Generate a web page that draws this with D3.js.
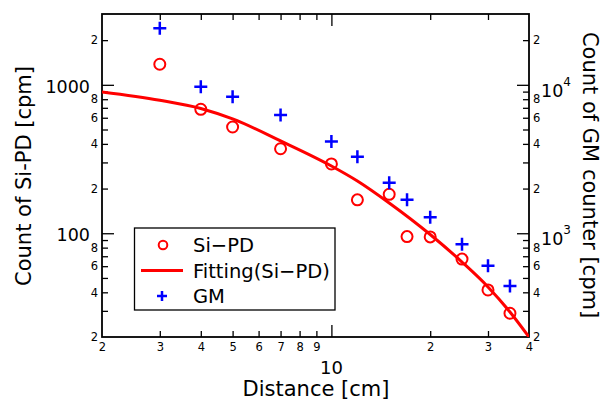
<!DOCTYPE html>
<html>
<head>
<meta charset="utf-8">
<script src="https://cdn.jsdelivr.net/npm/d3@7"></script>
<style>
  html, body { margin: 0; padding: 0; background: #fff; }
  svg { display: block; }
  text { font-family: "DejaVu Sans", "Liberation Sans", sans-serif; fill: #000; }
</style>
</head>
<body>
<svg id="chart" width="601" height="401"></svg>
<script>
// ---------- data ----------
const distance = [3, 4, 5, 7, 10, 12, 15, 17, 20, 25, 30, 35];
const siPD = [1376, 684, 520, 371, 293, 168, 183, 95, 94.5, 67, 41.5, 28.9];
const gm = [24060, 9720, 8320, 6270, 4150, 3280, 2190, 1680, 1280, 843, 605, 441];
const fitDistance = [2, 3, 4, 5, 7, 10, 12, 15, 20, 25, 30, 35, 40];
const fitSiPD = [895, 787, 693, 589, 419, 284, 225, 160, 98.1, 64, 43.5, 29.5, 20];

const xDomain = [2, 40];
const xTicks = [2, 3, 4, 5, 6, 7, 8, 9, 10, 20, 30, 40];
const xTickLabels = ["2", "3", "4", "5", "6", "7", "8", "9", "", "2", "3", "4"];
const xMajor = [10];
const xMajorLabels = ["10"];

const yLeftDomain = [20, 3000];
const yLeftTicks = [20, 30, 40, 50, 60, 70, 80, 90, 100, 200, 300, 400, 500, 600, 700, 800, 900, 1000, 2000];
const yLeftTickLabels = ["2", "", "4", "", "6", "", "8", "", "", "2", "", "4", "", "6", "", "8", "", "", "2"];
const yLeftMajor = [100, 1000];
const yLeftMajorLabels = ["100", "1000"];

const yRightDomain = [200, 30000];
const yRightTicks = [200, 300, 400, 500, 600, 700, 800, 900, 1000, 2000, 3000, 4000, 5000, 6000, 7000, 8000, 9000, 10000, 20000];
const yRightTickLabels = ["2", "", "4", "", "6", "", "8", "", "", "2", "", "4", "", "6", "", "8", "", "", "2"];
const yRightMajor = [1000, 10000];
const yRightMajorExp = ["3", "4"];

const legendLabels = ["Si\u2212PD", "Fitting(Si\u2212PD)", "GM"];
const xTitle = "Distance [cm]";
const yLeftTitle = "Count of Si-PD [cpm]";
const yRightTitle = "Count of GM counter [cpm]";

// ---------- layout ----------
const L = 102, R = 529, T = 14, B = 337;
const RED = "#ff0000", BLUE = "#0000ff";

const svg = d3.select("#chart");
const x = d3.scaleLog().domain(xDomain).range([L, R]);
const yL = d3.scaleLog().domain(yLeftDomain).range([B, T]);
const yR = d3.scaleLog().domain(yRightDomain).range([B, T]);

svg.append("defs").append("clipPath").attr("id", "clip")
  .append("rect").attr("x", L).attr("y", T).attr("width", R - L).attr("height", B - T);

const tickFont = 11.5;

// bottom axis
const gB = svg.append("g").attr("transform", `translate(0,${B})`)
  .call(d3.axisBottom(x).tickValues(xTicks).tickSize(-6).tickPadding(4)
    .tickFormat((d, i) => xTickLabels[i]));
gB.select(".domain").remove();
gB.selectAll(".tick line").attr("stroke", "#000").attr("stroke-width", 1.3)
  .attr("y2", d => xMajor.includes(d) ? -12 : (d === 2 || d === 40 ? 0 : -6));
gB.selectAll(".tick text").attr("font-size", tickFont).attr("font-family", "DejaVu Sans").attr("dy", "0.85em");
svg.selectAll(".xmajor").data(xMajor).enter().append("text")
  .attr("x", d => x(d)).attr("y", 373.5).attr("text-anchor", "middle")
  .attr("font-size", 18).text((d, i) => xMajorLabels[i]);

// top axis (ticks only)
const gT = svg.append("g").attr("transform", `translate(0,${T})`)
  .call(d3.axisTop(x).tickValues(xTicks.filter(d => d !== 2 && d !== 40)).tickSize(-6).tickFormat(""));
gT.select(".domain").remove();
gT.selectAll(".tick line").attr("stroke", "#000").attr("stroke-width", 1.3)
  .attr("y2", d => xMajor.includes(d) ? 12 : 6);

// left axis
const gL = svg.append("g").attr("transform", `translate(${L},0)`)
  .call(d3.axisLeft(yL).tickValues(yLeftTicks).tickSize(-6).tickPadding(4)
    .tickFormat((d, i) => yLeftTickLabels[i]));
gL.select(".domain").remove();
gL.selectAll(".tick line").attr("stroke", "#000").attr("stroke-width", 1.3)
  .attr("x2", d => yLeftMajor.includes(d) ? 12 : (d === 20 ? 0 : 6));
gL.selectAll(".tick text").attr("font-size", tickFont).attr("font-family", "DejaVu Sans");
svg.selectAll(".ylmajor").data(yLeftMajor).enter().append("text")
  .attr("x", 90).attr("y", d => yL(d) + 8).attr("text-anchor", "end")
  .attr("font-size", 17.5).text((d, i) => yLeftMajorLabels[i]);

// right axis
const gR = svg.append("g").attr("transform", `translate(${R},0)`)
  .call(d3.axisRight(yR).tickValues(yRightTicks).tickSize(-6).tickPadding(4)
    .tickFormat((d, i) => yRightTickLabels[i]));
gR.select(".domain").remove();
gR.selectAll(".tick line").attr("stroke", "#000").attr("stroke-width", 1.3)
  .attr("x2", d => yRightMajor.includes(d) ? -12 : (d === 200 ? 0 : -6));
gR.selectAll(".tick text").attr("font-size", tickFont).attr("font-family", "DejaVu Sans");
const rm = svg.selectAll(".yrmajor").data(yRightMajor).enter().append("text")
  .attr("x", 541).attr("y", d => yR(d) + 12).attr("font-size", 17.5);
rm.append("tspan").text("10");
rm.append("tspan").attr("dy", -11).attr("font-size", 12).text((d, i) => yRightMajorExp[i]);

// frame
svg.append("rect").attr("x", L).attr("y", T).attr("width", R - L).attr("height", B - T)
  .attr("fill", "none").attr("stroke", "#000").attr("stroke-width", 1.8);

// fit line
const plot = svg.append("g").attr("clip-path", "url(#clip)");
const fitPts = fitDistance.map((d, i) => [d, fitSiPD[i]]);
plot.append("path").datum(fitPts)
  .attr("d", d3.line().x(d => x(d[0])).y(d => yL(d[1])).curve(d3.curveMonotoneX))
  .attr("fill", "none").attr("stroke", RED).attr("stroke-width", 3);

// Si-PD circles
svg.selectAll(".sipd").data(distance).enter().append("circle")
  .attr("cx", d => x(d)).attr("cy", (d, i) => yL(siPD[i])).attr("r", 5.5)
  .attr("fill", "none").attr("stroke", RED).attr("stroke-width", 2);

// GM crosses
const cs = 6.5;
svg.selectAll(".gm").data(distance).enter().append("path")
  .attr("d", (d, i) => {
    const cx = x(d), cy = yR(gm[i]);
    return `M${cx - cs},${cy}H${cx + cs}M${cx},${cy - cs}V${cy + cs}`;
  })
  .attr("stroke", BLUE).attr("stroke-width", 2.5).attr("fill", "none");

// legend
const lg = svg.append("g");
lg.append("rect").attr("x", 134.5).attr("y", 228).attr("width", 200.5).attr("height", 82)
  .attr("fill", "#fff").attr("stroke", "#000").attr("stroke-width", 1.3);
lg.append("circle").attr("cx", 163).attr("cy", 245).attr("r", 4.3)
  .attr("fill", "none").attr("stroke", RED).attr("stroke-width", 2);
lg.append("line").attr("x1", 141).attr("x2", 183).attr("y1", 270.5).attr("y2", 270.5)
  .attr("stroke", RED).attr("stroke-width", 3);
lg.append("path").attr("d", "M157,296H167M162,291V301").attr("stroke", BLUE).attr("stroke-width", 2.5);
lg.selectAll(".lt").data(legendLabels).enter().append("text")
  .attr("x", 193).attr("y", (d, i) => 252 + i * 25.5).attr("font-size", 19.5).text(d => d);

// titles
svg.append("text").attr("x", 316).attr("y", 396).attr("text-anchor", "middle")
  .attr("font-size", 21).text(xTitle);
svg.append("text").attr("transform", "translate(31,176) rotate(-90)").attr("text-anchor", "middle")
  .attr("font-size", 21).text(yLeftTitle);
svg.append("text").attr("transform", "translate(583,175) rotate(90)").attr("text-anchor", "middle")
  .attr("font-size", 21).text(yRightTitle);
</script>
</body>
</html>
